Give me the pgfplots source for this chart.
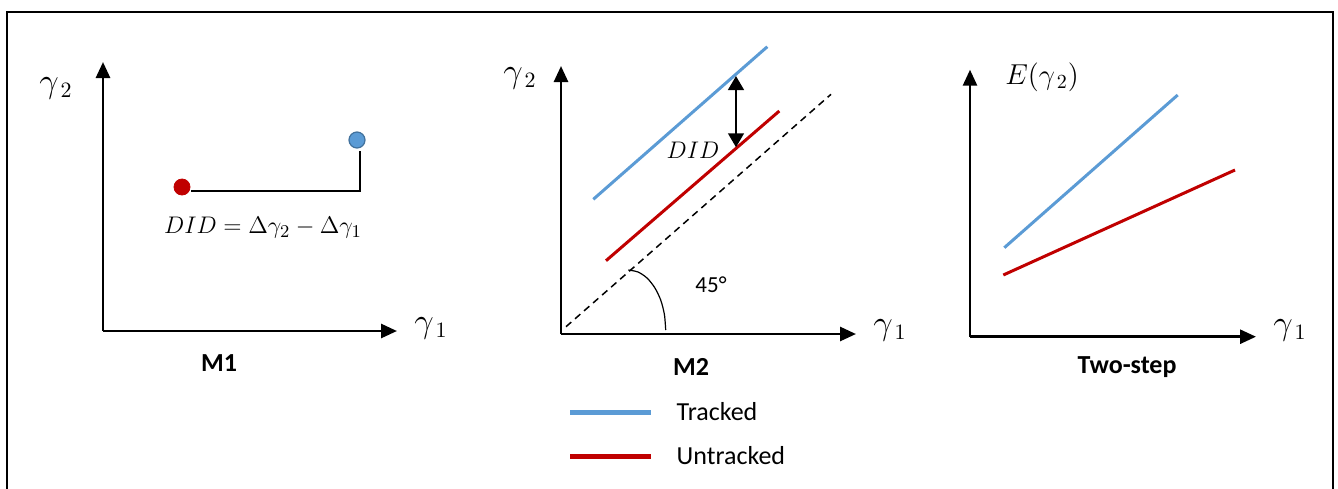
\documentclass[border=0pt]{standalone}
\usepackage{pgfplots}
\pgfplotsset{compat=1.18}
\usetikzlibrary{arrows.meta}
\usepackage{fontspec}
\setmainfont{Carlito}
\definecolor{trk}{HTML}{5B9BD5}
\definecolor{utrk}{HTML}{C00000}
\definecolor{trkedge}{HTML}{41719C}

\pgfplotsset{
  panel/.style={scale only axis, axis lines=left, xmin=0, ymin=0,
    xtick=\empty, ytick=\empty, clip=false, anchor=south west,
    axis line style={line width=1.35pt, -{Triangle[length=8pt,width=7pt]}}},
}
\newcommand{\glab}{\fontsize{16}{18}\selectfont}
\newcommand{\elab}{\fontsize{14.5}{17}\selectfont}
\newcommand{\tlab}{\fontsize{13}{15}\selectfont}

\begin{document}
\begin{tikzpicture}
\useasboundingbox (0,0) rectangle (669pt,-244pt);
\draw[line width=1pt] (3.4pt,-260pt) -- (3.4pt,-5.85pt) -- (666.65pt,-5.85pt) -- (666.65pt,-260pt);

% ---------- Panel M1 ----------
\begin{axis}[panel, at={(51.5pt,-165.5pt)}, width=147pt, height=134.5pt, xmax=294, ymax=269]
\addplot[black, line width=1.1pt, forget plot] coordinates {(88,140) (257,140) (257,180)};
\addplot[only marks, mark=*, mark size=4pt, color=utrk, forget plot] coordinates {(79,144)};
\addplot[only marks, mark=*, mark size=4pt, mark options={draw=trkedge, fill=trk, line width=0.6pt}, forget plot] coordinates {(254,191)};
\node at (axis cs:-47,243) {\glab $\gamma_{\,2}$};
\node at (axis cs:328,3) {\glab $\gamma_{\,1}$};
\node at (axis cs:160,103) {\fontsize{12.8}{15}\selectfont $DID=\Delta\gamma_2-\Delta\gamma_1$};
\node at (axis cs:116,-32) {\tlab\bfseries M1};
\end{axis}

% ---------- Panel M2 ----------
\begin{axis}[panel, at={(280.5pt,-167pt)}, width=147.5pt, height=134pt, xmax=295, ymax=268,
  legend style={draw=none, fill=none, at={(0.0227,-0.257)}, anchor=north west,
    inner sep=0pt, outer sep=0pt, font=\tlab, row sep=9.65pt,
    cells={anchor=west}, nodes={text height=9pt, text depth=3pt, inner sep=0pt}},
  legend image code/.code={\draw[#1, line width=2.5pt] (0pt,1pt) -- (40.5pt,1pt); \path (52.5pt,0pt);}]
\addplot[trk, line width=1.5pt] coordinates {(32.3,134.7) (206.3,287.3)};
\addlegendentry{Tracked}
\addplot[utrk, line width=1.5pt] coordinates {(45,73.3) (218.3,223)};
\addlegendentry{Untracked}
\addplot[black, line width=0.75pt, dash pattern=on 3.5pt off 2.5pt, forget plot] coordinates {(5,7.3) (270,239.7)};
\addplot[black, line width=0.6pt, smooth, forget plot] coordinates {(67.3,64) (77.0,62.0) (86.0,56.0) (93.7,46.4) (99.7,34) (103.4,19.5) (104.7,4)};
\addplot[black, line width=1.3pt, {Triangle[length=7pt,width=7.8pt]}-{Triangle[length=7pt,width=7.8pt]}, forget plot] coordinates {(175,186.7) (175,258)};
\node at (axis cs:-41,256) {\glab $\gamma_{\,2}$};
\node at (axis cs:329,4) {\glab $\gamma_{\,1}$};
\node at (axis cs:132,184) {\fontsize{12.8}{15}\selectfont $DID$};
\node at (axis cs:150,49) {\fontsize{11.5}{14}\selectfont 45°};
\node at (axis cs:130,-33) {\tlab\bfseries M2};
\end{axis}

% ---------- Panel Two-step ----------
\begin{axis}[panel, at={(485pt,-168.35pt)}, width=143pt, height=133.5pt, xmax=286, ymax=267]
\addplot[trk, line width=1.5pt, forget plot] coordinates {(34.3,89) (207.7,241.7)};
\addplot[utrk, line width=1.5pt, forget plot] coordinates {(33.3,61.7) (265,166.7)};
\node at (axis cs:72,259.7) {\elab $E(\gamma_{\,2})$};
\node at (axis cs:320,6.7) {\glab $\gamma_{\,1}$};
\node at (axis cs:157,-30) {\tlab\bfseries Two-step};
\end{axis}
\end{tikzpicture}
\end{document}
